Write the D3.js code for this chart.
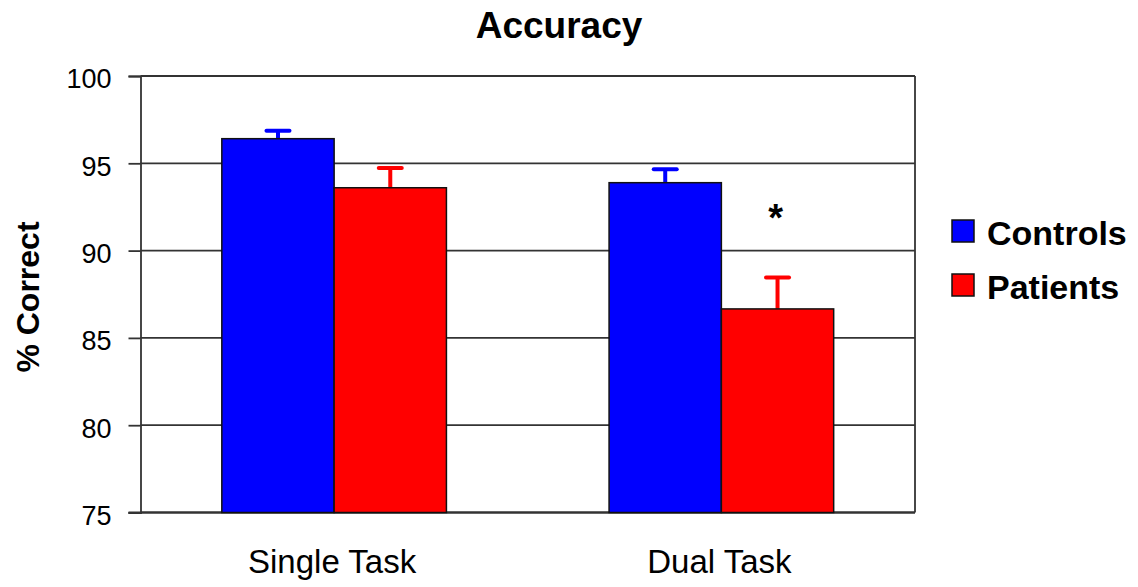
<!DOCTYPE html>
<html>
<head>
<meta charset="utf-8">
<script src="https://cdn.jsdelivr.net/npm/d3@7/dist/d3.min.js"></script>
<style>
  html, body { margin: 0; padding: 0; background: #fff; }
  svg { display: block; font-family: "Liberation Sans", Arial, sans-serif; }
</style>
</head>
<body>
<svg id="chart" width="1138" height="587"></svg>
<script>
// ---- data ----
const categories = ["Single Task", "Dual Task"];
const seriesNames = ["Controls", "Patients"];
const seriesColors = ["#0000ff", "#ff0000"];
const controlsValues = [96.41, 93.89];
const patientsValues = [93.60, 86.66];
const controlsErrors = [0.46, 0.77];
const patientsErrors = [1.13, 1.80];
const yTicks = [75, 80, 85, 90, 95, 100];
const significance = [{ category: "Dual Task", series: "Patients", label: "*", value: 91.1 }];

const seriesValues = [controlsValues, patientsValues];
const seriesErrors = [controlsErrors, patientsErrors];

// ---- layout ----
const svg = d3.select("#chart");
const margin = { left: 140.5, right: 915, top: 76, bottom: 512.5 };

const x0 = d3.scaleBand().domain(categories)
  .range([margin.left, margin.right]).paddingInner(0.42).paddingOuter(0.21);
const x1 = d3.scaleBand().domain(seriesNames).range([0, x0.bandwidth()]).padding(0);
const y = d3.scaleLinear().domain([75, 100]).range([margin.bottom, margin.top]);

const gridColor = "#333";

// gridlines
svg.append("g").selectAll("line").data(yTicks).join("line")
  .attr("x1", margin.left).attr("x2", margin.right)
  .attr("y1", d => y(d)).attr("y2", d => y(d))
  .attr("stroke", gridColor).attr("stroke-width", 1.8);

// right border
svg.append("line")
  .attr("x1", margin.right).attr("x2", margin.right)
  .attr("y1", margin.top).attr("y2", margin.bottom)
  .attr("stroke", gridColor).attr("stroke-width", 1.8);

// y axis
const yAxis = d3.axisLeft(y).tickValues(yTicks).tickSize(12).tickPadding(17).tickFormat(d3.format("d"));
const yg = svg.append("g").attr("transform", `translate(${margin.left},0)`).call(yAxis);
yg.select(".domain").attr("stroke", gridColor).attr("stroke-width", 1.8);
yg.selectAll(".tick line").attr("stroke", gridColor).attr("stroke-width", 1.8);
yg.selectAll(".tick text").attr("font-size", 27).attr("fill", "#000").attr("dy", "0.44em")
  .attr("font-family", "Liberation Sans, Arial, sans-serif");

// x axis line (bottom)
svg.append("line")
  .attr("x1", margin.left - 12).attr("x2", margin.right)
  .attr("y1", margin.bottom).attr("y2", margin.bottom)
  .attr("stroke", gridColor).attr("stroke-width", 1.8);

// x category labels
svg.append("g").selectAll("text").data(categories).join("text")
  .attr("x", d => x0(d) + x0.bandwidth() / 2 - 2)
  .attr("y", 573)
  .attr("text-anchor", "middle")
  .attr("font-size", 33)
  .attr("fill", "#000")
  .text(d => d);

// bars
const barData = [];
categories.forEach((c, i) => {
  seriesNames.forEach((s, j) => {
    barData.push({ category: c, series: s, value: seriesValues[j][i], err: seriesErrors[j][i], color: seriesColors[j] });
  });
});

// error bars
const capW = 23;
const eg = svg.append("g");
eg.selectAll("line.stem").data(barData).join("line")
  .attr("class", "stem")
  .attr("x1", d => x0(d.category) + x1(d.series) + x1.bandwidth() / 2)
  .attr("x2", d => x0(d.category) + x1(d.series) + x1.bandwidth() / 2)
  .attr("y1", d => y(d.value)).attr("y2", d => y(d.value + d.err))
  .attr("stroke", d => d.color).attr("stroke-width", 4);
eg.selectAll("line.cap").data(barData).join("line")
  .attr("class", "cap")
  .attr("x1", d => x0(d.category) + x1(d.series) + x1.bandwidth() / 2 - capW / 2)
  .attr("x2", d => x0(d.category) + x1(d.series) + x1.bandwidth() / 2 + capW / 2)
  .attr("y1", d => y(d.value + d.err)).attr("y2", d => y(d.value + d.err))
  .attr("stroke", d => d.color).attr("stroke-width", 4).attr("stroke-linecap", "round");

svg.append("g").selectAll("rect").data(barData).join("rect")
  .attr("x", d => x0(d.category) + x1(d.series))
  .attr("width", x1.bandwidth())
  .attr("y", d => y(d.value))
  .attr("height", d => y(75) - y(d.value))
  .attr("fill", d => d.color)
  .attr("stroke", "#111").attr("stroke-width", 1.5);

// significance marker
svg.append("g").selectAll("text").data(significance).join("text")
  .attr("x", d => x0(d.category) + x1(d.series) + x1.bandwidth() / 2 - 2)
  .attr("y", d => y(d.value))
  .attr("text-anchor", "middle")
  .attr("font-size", 38).attr("font-weight", "bold").attr("fill", "#000")
  .text(d => d.label);

// title
svg.append("text")
  .attr("x", 559).attr("y", 38)
  .attr("text-anchor", "middle")
  .attr("font-size", 37).attr("font-weight", "bold").attr("fill", "#000")
  .text("Accuracy");

// y axis title
svg.append("text")
  .attr("transform", "translate(39,297) rotate(-90)")
  .attr("text-anchor", "middle")
  .attr("font-size", 32).attr("font-weight", "bold").attr("fill", "#000")
  .text("% Correct");

// legend
const legend = svg.append("g").selectAll("g").data(seriesNames).join("g")
  .attr("transform", (d, i) => `translate(952,${220 + i * 54})`);
legend.append("rect")
  .attr("width", 22).attr("height", 22)
  .attr("fill", (d, i) => seriesColors[i])
  .attr("stroke", "#111").attr("stroke-width", 1.5);
legend.append("text")
  .attr("x", 35).attr("y", 25)
  .attr("font-size", 34).attr("font-weight", "bold").attr("fill", "#000")
  .text(d => d);
</script>
</body>
</html>
